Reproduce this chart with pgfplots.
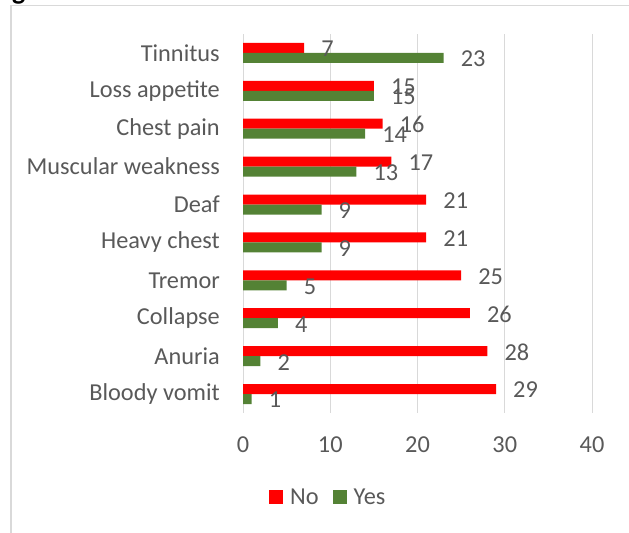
\documentclass[border=0pt]{standalone}
\usepackage{fontspec}
\setmainfont{Carlito}
\usepackage{pgfplots}
\pgfplotsset{compat=1.18}
\definecolor{txt}{HTML}{595959}
\definecolor{gridc}{HTML}{D9D9D9}
\definecolor{cno}{HTML}{FF0000}
\definecolor{cyes}{HTML}{548235}
\newcommand{\cf}{\fontsize{24.4}{28}\selectfont}
\begin{document}
\begin{tikzpicture}
\useasboundingbox (0bp,0bp) rectangle (629bp,533bp);
\draw[gridc, line width=1.5bp] (11bp,0bp) -- (11bp,527.5bp) -- (629bp,527.5bp);
\node[anchor=south west, inner sep=0pt, font=\fontsize{28}{30}\selectfont\bfseries] at (12bp,529bp) {g};
\begin{axis}[
  at={(243bp,120bp)}, anchor=south west,
  width=349bp, height=379bp, scale only axis,
  enlargelimits=false,
  xmin=0, xmax=40, xtick={0,10,20,30,40},
  ymin=-0.5, ymax=9.5, ytick={0,1,2,3,4,5,6,7,8,9},
  yticklabels={Bloody vomit, Anuria, Collapse, Tremor, Heavy chest, Deaf, Muscular weakness, Chest pain, {Loss appetite\hspace{5bp}}, Tinnitus},
  xbar, bar width=10bp,
  axis line style={draw=none},
  major tick length=0pt,
  xmajorgrids, grid style={gridc, line width=1bp},
  tick label style={font=\cf, text=txt, inner sep=0pt},
  /pgf/number format/assume math mode=true,
  yticklabel style={xshift=-23bp},
  xticklabel style={yshift=-24bp},
  nodes near coords,
  every node near coord/.append style={font=\cf, text=txt, anchor=west, xshift=17bp, yshift=-1bp, inner sep=0pt},
  legend columns=-1,
  legend style={at={(axis description cs:0.0745,-0.2216)}, anchor=west, draw=none, fill=none, inner sep=0pt, font=\cf, text=txt, nodes={inner sep=0pt},
    /tikz/every even column/.append style={column sep=14bp},
    /tikz/every odd column/.append style={column sep=7bp}},
  legend image code/.code={\fill[#1] (0bp,-7bp) rectangle (14bp,7bp);},
]
\addplot[fill=cno, draw=none, bar shift=5bp] coordinates {
  (29,0) (28,1) (26,2) (25,3) (21,4) (21,5) (17,6) (16,7) (15,8) (7,9)};
\addplot[fill=cyes, draw=none, bar shift=-5bp] coordinates {
  (1,0) (2,1) (4,2) (5,3) (9,4) (9,5) (13,6) (14,7) (15,8) (23,9)};
\legend{No, Yes}
\end{axis}
\end{tikzpicture}
\end{document}
